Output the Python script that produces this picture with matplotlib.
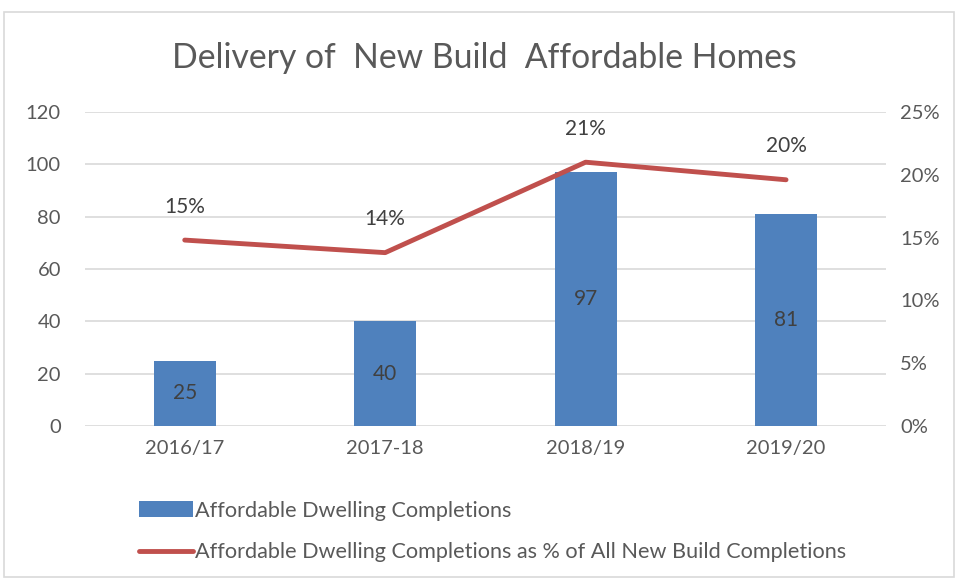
import matplotlib
matplotlib.use("Agg")
import matplotlib.pyplot as plt
from matplotlib.patches import Rectangle
from matplotlib.lines import Line2D
from matplotlib.patches import Patch

plt.rcParams['font.family'] = ['Lato', 'DejaVu Sans']

categories = ["2016/17", "2017-18", "2018/19", "2019/20"]
completions = [25, 40, 97, 81]
pct_of_all = [14.8, 13.8, 21.0, 19.6]
pct_labels = ["15%", "14%", "21%", "20%"]
left_ticks = [0, 20, 40, 60, 80, 100, 120]
right_ticks = [0, 5, 10, 15, 20, 25]

text_col = "#595959"
bar_col = "#4f81bd"
line_col = "#c0504d"
grid_col = "#d9d9d9"

fig = plt.figure(figsize=(9.55, 5.8), dpi=100)
fig.patches.append(Rectangle((0.004, 0.005), 0.995, 0.975, transform=fig.transFigure,
                             fill=False, edgecolor="#d9d9d9", linewidth=1.2))
ax = fig.add_axes([0.0885, 0.2655, 0.8395, 0.5415])
x = list(range(len(categories)))
bars = ax.bar(x, completions, width=0.31, color=bar_col, zorder=2)
ax.set_ylim(0, 120)
ax.set_xlim(-0.5, 3.5)
ax.set_yticks(left_ticks)
ax.grid(axis='y', color=grid_col, linewidth=1.2, zorder=0)
ax.set_axisbelow(True)
for s in ax.spines.values():
    s.set_visible(False)
ax.tick_params(axis='both', length=0, labelsize=14.5, colors=text_col, pad=17)
ax.tick_params(axis='x', pad=10)
ax.set_xticks(x)
ax.set_xticklabels(categories)
for xi, v in zip(x, completions):
    ax.text(xi, v / 2, str(v), ha='center', va='center', fontsize=15, color="#404040", zorder=4)

ax2 = ax.twinx()
ax2.plot(x, pct_of_all, color=line_col, linewidth=3.5, solid_capstyle='round', zorder=3)
ax2.set_ylim(0, 25)
ax2.set_yticks(right_ticks)
ax2.set_yticklabels([f"{t}%" for t in right_ticks])
for s in ax2.spines.values():
    s.set_visible(False)
ax2.tick_params(axis='y', length=0, labelsize=14.5, colors=text_col, pad=10)
for xi, v, lab in zip(x, pct_of_all, pct_labels):
    ax2.annotate(lab, (xi, v), xytext=(0, 24), textcoords='offset points', ha='center',
                 va='center', fontsize=15, color="#404040")

fig.text(0.507, 0.90, "Delivery of  New Build  Affordable Homes", ha='center', va='center',
         fontsize=24.3, color=text_col)

handles = [Patch(facecolor=bar_col, edgecolor='none'),
           Line2D([0], [0], color=line_col, linewidth=3.5, solid_capstyle='round')]
labels = ["Affordable Dwelling Completions",
          "Affordable Dwelling Completions as % of All New Build Completions"]
leg = fig.legend(handles, labels, loc='upper left', bbox_to_anchor=(0.136, 0.152),
                 frameon=False, fontsize=15.6, labelcolor=text_col, handlelength=2.5,
                 handletextpad=0.12, labelspacing=1.0, borderaxespad=0)

fig.savefig("out.png", dpi=100)
